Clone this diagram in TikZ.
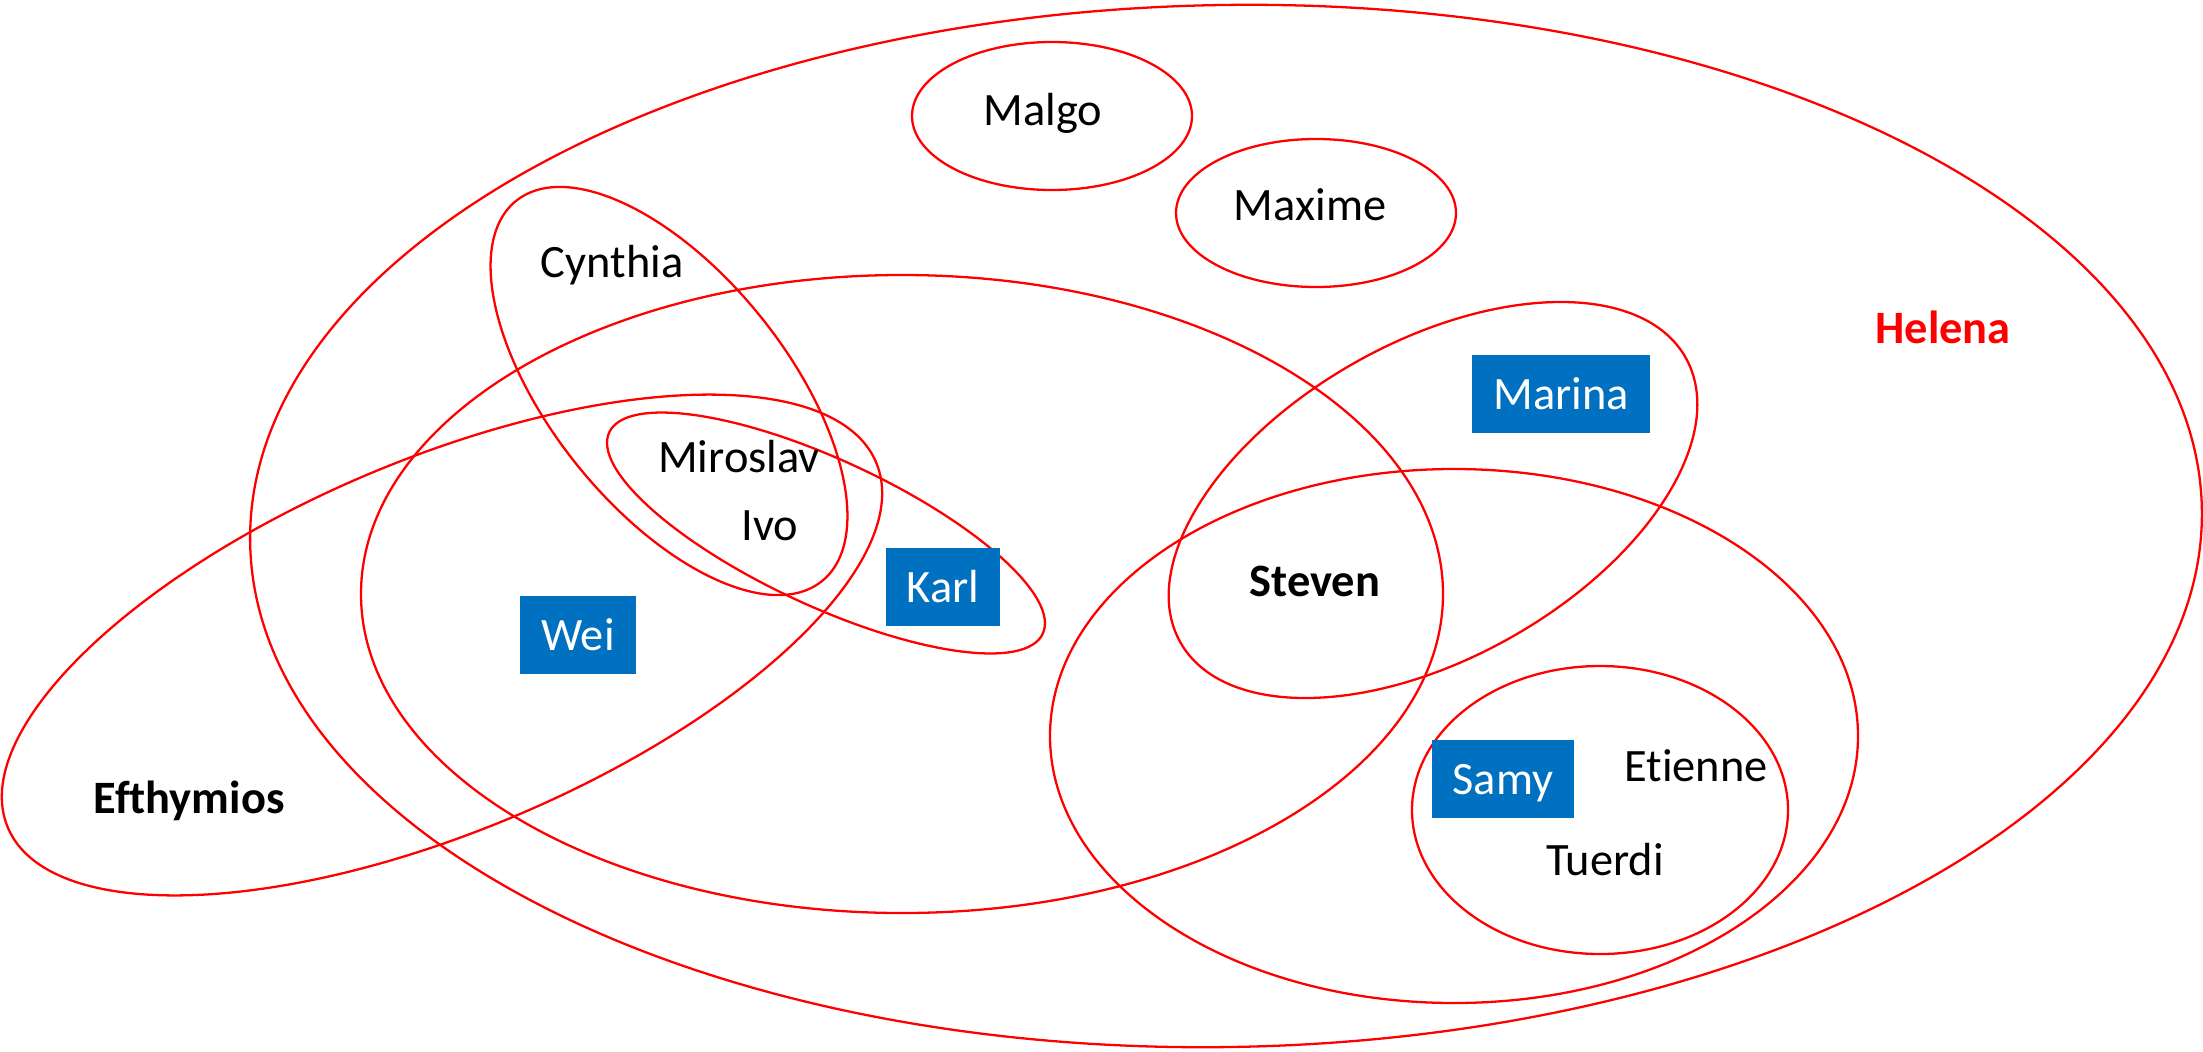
\documentclass[tikz,border=0pt]{standalone}
\usepackage{fontspec}
\setmainfont{Carlito}[Ligatures=NoCommon]
\definecolor{vennred}{HTML}{FF0000}
\definecolor{pickblue}{HTML}{0070C0}
\begin{document}
\begin{tikzpicture}[x=0.01cm, y=-0.01cm,
        venn/.style={draw=vennred, line width=0.65pt},
        person/.style={anchor=base, inner sep=0pt, font=\fontsize{13.2}{16}\selectfont},
        pick/.style={fill=pickblue, text=white, inner xsep=0.21cm, inner ysep=0pt,
            minimum height=0.78cm, text height=0.3cm, text depth=0pt,
            font=\fontsize{13.2}{16}\selectfont}]
        \useasboundingbox (0,0) rectangle (2203,1051);
        \draw[venn, rotate around={1:(1226,526)}] (1226,526) ellipse [x radius=976, y radius=521];
        \draw[venn] (1052,116) ellipse [x radius=140, y radius=74];
        \draw[venn] (1316,213) ellipse [x radius=140, y radius=74];
        \draw[venn, rotate around={-51.2:(669,391)}] (669,391) ellipse [x radius=244, y radius=118];
        \draw[venn] (902,594) ellipse [x radius=541, y radius=319];
        \draw[venn, rotate around={22.8:(442,645)}] (442,645) ellipse [x radius=471, y radius=186];
        \draw[venn, rotate around={-24.9:(826,533)}] (826,533) ellipse [x radius=239, y radius=73];
        \draw[venn, rotate around={29.4:(1433,500)}] (1433,500) ellipse [x radius=290, y radius=158];
        \draw[venn] (1454,736) ellipse [x radius=404, y radius=267];
        \draw[venn] (1600,810) ellipse [x radius=188, y radius=144];
        \node[person] (malgo) at (1043,125) {Malgo};
        \node[person] (maxime) at (1310,220) {Maxime};
        \node[person] (cynthia) at (612,277) {Cynthia};
        \node[person] (miroslav) at (739,472) {Miroslav};
        \node[person] (ivo) at (770,540) {Ivo};
        \node[person] (efthymios) at (189,813) {\bfseries Efthymios};
        \node[person] (steven) at (1315,596) {\bfseries Steven};
        \node[person, text=vennred] (helena) at (1943,343) {\bfseries Helena};
        \node[person] (etienne) at (1696,781) {Etienne};
        \node[person] (tuerdi) at (1605,875) {Tuerdi};
        \node[pick] (wei) at (578,635) {Wei};
        \node[pick] (karl) at (943,587) {Karl};
        \node[pick] (marina) at (1561,394) {Marina};
        \node[pick] (samy) at (1503,779) {Samy};
\end{tikzpicture}
\end{document}
